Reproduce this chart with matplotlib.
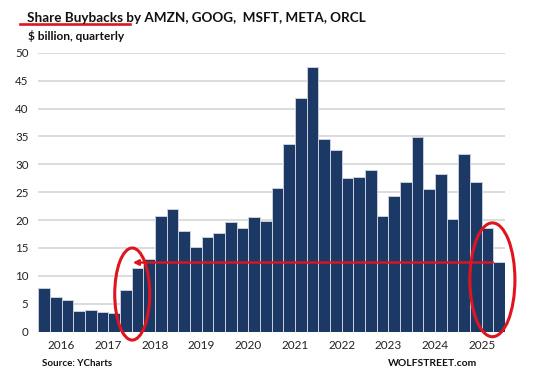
import matplotlib
matplotlib.use("Agg")
import matplotlib.pyplot as plt
from matplotlib.patches import Ellipse
from matplotlib.lines import Line2D

plt.rcParams['font.family'] = ['Lato', 'DejaVu Sans']

# Quarterly share buybacks, $ billion (2016 Q1 .. 2025 Q4 slots)
values = [7.8, 6.3, 5.7, 3.7,
          3.9, 3.5, 3.4, 7.4,
          11.4, 13.1, 20.7, 22.0,
          18.1, 15.2, 17.0, 17.6,
          19.7, 18.5, 20.6, 19.8,
          25.7, 33.7, 41.8, 47.5,
          34.5, 32.6, 27.5, 27.8,
          29.0, 20.8, 24.3, 26.8,
          34.9, 25.6, 28.2, 20.2,
          31.9, 26.9, 18.6, 12.5]
years = ['2016', '2017', '2018', '2019', '2020', '2021', '2022', '2023', '2024', '2025']
yticks = [0, 5, 10, 15, 20, 25, 30, 35, 40, 45, 50]
ref_level = 12.4

W, H = 545, 377
fig = plt.figure(figsize=(W / 100, H / 100), dpi=100)
ax = fig.add_axes([38.3 / W, 1 - 331.7 / H, (505 - 38.3) / W, (331.7 - 52.7) / H])

x = list(range(len(values)))
ax.bar(x, values, width=1.0, color='#1c3966', edgecolor='#c9cfda', linewidth=0.7, zorder=2)
ax.set_xlim(-0.5, len(values) - 0.5)
ax.set_ylim(0, 50)
ax.set_yticks(yticks)
ax.set_yticklabels([str(v) for v in yticks], fontsize=8.3, color='#222222')
ax.yaxis.grid(True, color='#d9d9d9', linewidth=1.3, zorder=0)
ax.set_axisbelow(True)
ax.set_xticks([4 * i + 1.5 for i in range(len(years))])
ax.set_xticklabels(years, fontsize=8.5, color='#222222')
ax.tick_params(axis='both', length=0)
ax.tick_params(axis='x', pad=6)
ax.tick_params(axis='y', pad=7)
for s in ax.spines.values():
    s.set_visible(False)

red = '#e0141e'
# Ellipses
ax.add_patch(Ellipse((7.55, 6.75), 3.0, 16.5, fill=False, edgecolor=red, lw=2.2, clip_on=False, zorder=5))
ax.add_patch(Ellipse((38.42, 9.3), 3.86, 20.4, fill=False, edgecolor=red, lw=2.2, clip_on=False, zorder=5))
# Arrow line
ax.annotate('', xy=(7.6, ref_level), xytext=(38.46, ref_level),
            arrowprops=dict(arrowstyle='-|>', color=red, lw=1.7, mutation_scale=8, shrinkA=0, shrinkB=0),
            zorder=6)

# Titles
fig.text(27 / W, 1 - 21.5 / H, 'Share Buybacks by AMZN, GOOG,  MSFT, META, ORCL',
         fontsize=9.7, fontweight='bold', color='#111111', va='baseline', ha='left')
fig.text(28 / W, 1 - 40 / H, '$ billion, quarterly', fontsize=8.6, fontweight='bold',
         color='#111111', va='baseline', ha='left')
fig.add_artist(Line2D([20 / W, 130 / W], [1 - 23.5 / H, 1 - 23.5 / H], color=red, lw=1.9,
                      transform=fig.transFigure))

fig.text(42 / W, 1 - 366 / H, 'Source: YCharts', fontsize=7, fontweight='bold',
         color='#111111', va='baseline', ha='left')
fig.text(477 / W, 1 - 366 / H, 'WOLFSTREET.com', fontsize=7.5, fontweight='bold',
         color='#111111', va='baseline', ha='right')

fig.savefig('out.png', dpi=100)
